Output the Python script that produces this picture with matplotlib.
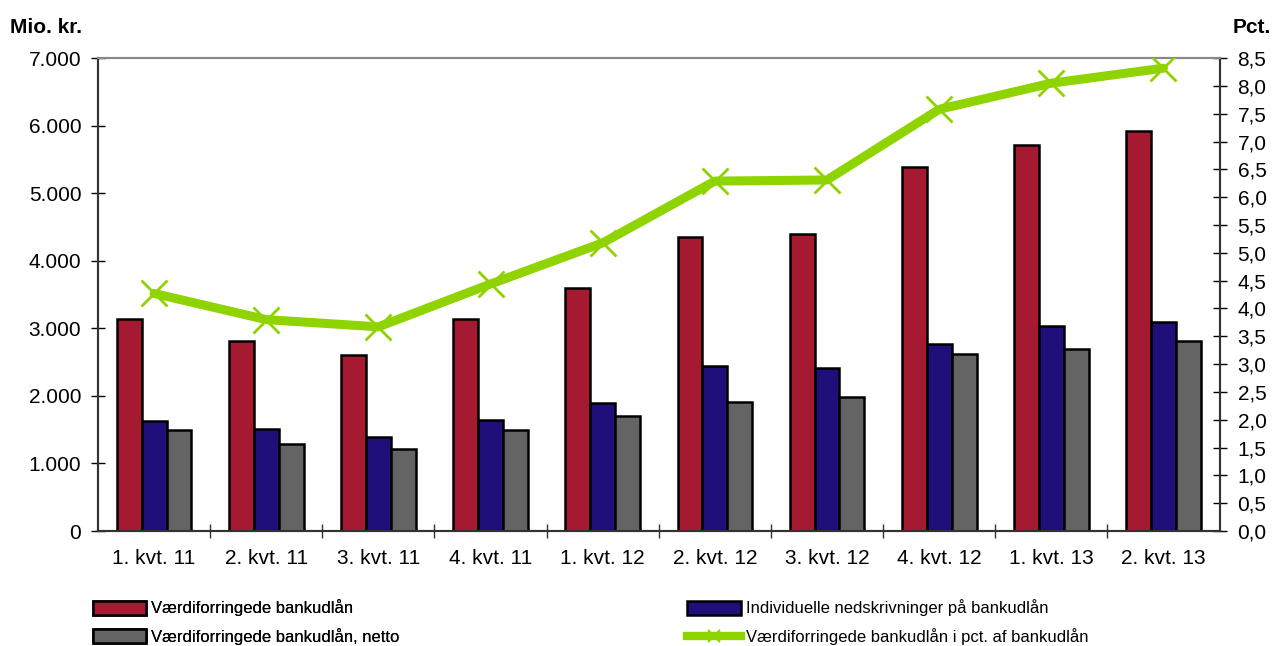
import matplotlib
matplotlib.use("Agg")
import matplotlib.pyplot as plt
from matplotlib.patches import Patch
from matplotlib.lines import Line2D
import numpy as np

# data
kvartaler = ['1. kvt. 11', '2. kvt. 11', '3. kvt. 11', '4. kvt. 11', '1. kvt. 12',
             '2. kvt. 12', '3. kvt. 12', '4. kvt. 12', '1. kvt. 13', '2. kvt. 13']
vaerdiforringede = [3140, 2810, 2605, 3140, 3595, 4350, 4395, 5385, 5710, 5920]
nedskrivninger = [1630, 1510, 1390, 1640, 1895, 2440, 2415, 2765, 3035, 3095]
netto = [1495, 1290, 1215, 1495, 1700, 1910, 1985, 2620, 2695, 2815]
pct_af_udlaan = [4.27, 3.80, 3.67, 4.44, 5.18, 6.29, 6.31, 7.58, 8.05, 8.32]

left_ticks = np.arange(0, 7001, 1000)
right_ticks = np.arange(0, 8.51, 0.5)

RED = '#a51931'
BLUE = '#1f0f7a'
GREY = '#646464'
GREEN = '#8fd400'

plt.rcParams['font.family'] = ['Liberation Sans', 'DejaVu Sans']

fig = plt.figure(figsize=(12.73, 6.46), dpi=100)
ax = fig.add_axes([0.077, 0.178, 0.881, 0.732])
ax2 = ax.twinx()

x = np.arange(len(kvartaler))
w = 0.222
ax.bar(x - w, vaerdiforringede, w, color=RED, edgecolor='black', lw=1.8, zorder=3)
ax.bar(x, nedskrivninger, w, color=BLUE, edgecolor='black', lw=1.8, zorder=3)
ax.bar(x + w, netto, w, color=GREY, edgecolor='black', lw=1.8, zorder=3)

ax2.plot(x, pct_af_udlaan, color=GREEN, lw=6.5, marker='x', ms=19, mew=2,
         solid_capstyle='round', zorder=5)

ax.set_xlim(-0.5, len(kvartaler) - 0.5)
ax.set_ylim(0, 7000)
ax2.set_ylim(0, 8.5)

ax.set_yticks(left_ticks)
ax.set_yticklabels([f'{v:,.0f}'.replace(',', '.') for v in left_ticks])
ax2.set_yticks(right_ticks)
ax2.set_yticklabels([f'{v:.1f}'.replace('.', ',') for v in right_ticks])

ax.set_xticks(x)
ax.set_xticklabels(kvartaler)
ax.set_xticks(np.arange(0.5, len(kvartaler) - 0.5, 1), minor=True)
ax.tick_params(axis='x', which='major', length=0, pad=13, labelsize=15)
ax.tick_params(axis='x', which='minor', length=10, direction='inout', width=1, color='#333333')
ax.tick_params(axis='y', length=10, direction='inout', width=1, labelsize=15, pad=7)
ax2.tick_params(axis='y', length=10, direction='inout', width=1, labelsize=15, pad=8)

for a in (ax, ax2):
    a.spines['top'].set_color('#888888')
    a.spines['top'].set_linewidth(1.5)
    for s in ('left', 'right', 'bottom'):
        a.spines[s].set_color('#333333')
        a.spines[s].set_linewidth(1.5)

fig.text(0.008, 0.958, 'Mio. kr.', fontsize=15, fontweight='bold', ha='left', va='center')
fig.text(0.998, 0.958, 'Pct.', fontsize=15, fontweight='bold', ha='right', va='center')

leg_font = {'family': ['Liberation Sans', 'DejaVu Sans'], 'size': 12}
leg_kw = dict(frameon=False, loc='upper left', handlelength=3.2, handleheight=0.9,
              handletextpad=0.3, labelspacing=0.7, borderpad=0, borderaxespad=0,
              prop=leg_font)

left_handles = [Patch(facecolor=RED, edgecolor='black', lw=1.8),
                Patch(facecolor=GREY, edgecolor='black', lw=1.8)]
left_labels = ['Værdiforringede bankudlån', 'Værdiforringede bankudlån, netto']
right_handles = [Patch(facecolor=BLUE, edgecolor='black', lw=1.8),
                 Line2D([], [], color=GREEN, lw=6, marker='x', ms=8, mew=1.5)]
right_labels = ['Individuelle nedskrivninger på bankudlån',
                'Værdiforringede bankudlån i pct. af bankudlån']

leg1 = fig.legend(left_handles, left_labels, bbox_to_anchor=(0.073, 0.072), **leg_kw)
fig.add_artist(leg1)
fig.legend(right_handles, right_labels, bbox_to_anchor=(0.540, 0.072), **leg_kw)

fig.savefig('out.png', dpi=100)
